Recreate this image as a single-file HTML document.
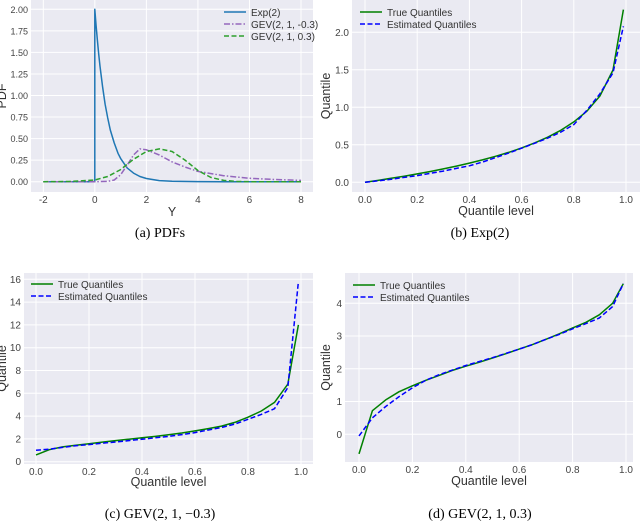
<!DOCTYPE html>
<html><head><meta charset="utf-8">
<style>
body{margin:0;background:#fff;}
svg text{font-family:"Liberation Sans",sans-serif;}
.cap{font-family:"Liberation Serif",serif;font-size:14px;fill:#000;}
</style></head>
<body>
<svg id="fig" width="640" height="527" xmlns="http://www.w3.org/2000/svg"></svg>
<script>
// Panel (a) PDFs
const expX=[-2,0,0,0.05,0.1,0.15,0.2,0.3,0.4,0.5,0.6,0.75,0.9,1,1.25,1.5,1.75,2,2.5,3,4,5,8];
const expY=[0,0,2,1.81,1.64,1.48,1.34,1.10,0.90,0.74,0.60,0.45,0.33,0.27,0.16,0.10,0.06,0.037,0.013,0.005,0.0007,0,0];
const gevNegX=[-2,0,0.5,0.75,1,1.25,1.5,1.75,2,2.5,3,3.5,4,5,6,7,8];
const gevNegY=[0,0,0.003,0.02,0.08,0.19,0.31,0.38,0.37,0.31,0.23,0.17,0.12,0.07,0.04,0.025,0.015];
const gevPosX=[-2,-1,0,0.5,1,1.5,2,2.5,3,3.5,4,4.5,5,5.5,6,7,8];
const gevPosY=[0,0.002,0.02,0.06,0.14,0.26,0.35,0.38,0.35,0.25,0.13,0.05,0.015,0.003,0,0,0];
// Quantile panels
const levels=[0,0.05,0.1,0.15,0.2,0.25,0.3,0.35,0.4,0.45,0.5,0.55,0.6,0.65,0.7,0.75,0.8,0.85,0.9,0.95,0.99];
const expTrue=[0.0005,0.0256,0.0527,0.0813,0.1116,0.1438,0.1783,0.2154,0.2554,0.2989,0.3466,0.3992,0.4581,0.5249,0.6020,0.6931,0.8047,0.9486,1.1513,1.4979,2.3026];
const expEst=[0,0.02,0.04,0.065,0.09,0.12,0.15,0.185,0.22,0.27,0.33,0.39,0.455,0.52,0.59,0.67,0.77,0.96,1.18,1.46,2.08];
const gevNegTrue=[0.6,1.05,1.3,1.45,1.58,1.72,1.85,1.97,2.1,2.22,2.36,2.52,2.7,2.9,3.12,3.45,3.9,4.45,5.2,6.8,12.0];
const gevNegEst=[1.0,1.1,1.25,1.4,1.5,1.62,1.73,1.85,1.97,2.1,2.22,2.38,2.55,2.78,3.0,3.3,3.72,4.15,4.65,6.5,15.8];
const gevPosTrue=[-0.6,0.72,1.05,1.3,1.48,1.65,1.8,1.95,2.08,2.2,2.33,2.46,2.6,2.74,2.9,3.07,3.25,3.42,3.65,4.0,4.6];
const gevPosEst=[-0.05,0.5,0.85,1.15,1.42,1.65,1.82,1.96,2.1,2.22,2.34,2.47,2.6,2.74,2.9,3.05,3.22,3.38,3.55,3.9,4.6];
const ticksA_x=[-2,0,2,4,6,8], ticksA_y=[0,0.25,0.5,0.75,1,1.25,1.5,1.75,2];
const ticksQ_x=[0,0.2,0.4,0.6,0.8,1];
const ticksB_y=[0,0.5,1,1.5,2], ticksC_y=[0,2,4,6,8,10,12,14,16], ticksD_y=[0,1,2,3,4];

const NS="http://www.w3.org/2000/svg";
const svg=document.getElementById('fig');
function mk(tag,attrs,parent){const e=document.createElementNS(NS,tag);for(const k in attrs)e.setAttribute(k,attrs[k]);(parent||svg).appendChild(e);return e;}
function scale(d0,d1,p0,p1){return v=>p0+(v-d0)*(p1-p0)/(d1-d0);}

function panel(o){
  const g=mk('g',{});
  
  
  const bg=mk('rect',{x:o.l,y:o.t,width:o.r-o.l,height:o.b-o.t,fill:'#eaeaf2'},g);
  
  
  const sx=scale(o.xd[0],o.xd[1],o.xp[0],o.xp[1]);
  const sy=scale(o.yd[0],o.yd[1],o.yp[0],o.yp[1]);
  o.xt.forEach(v=>{
    const gl=mk('line',{x1:sx(v),x2:sx(v),y1:o.t,y2:o.b,stroke:'#fff','stroke-width':1},g);
    
    
    const t=mk('text',{x:sx(v),y:o.b+11,'font-size':10,fill:'#444','text-anchor':'middle'},g);
    t.textContent=o.xfmt(v);
    
    
  });
  o.yt.forEach(v=>{
    const gl=mk('line',{x1:o.l,x2:o.r,y1:sy(v),y2:sy(v),stroke:'#fff','stroke-width':1},g);
    
    
    const t=mk('text',{x:o.l-3,y:sy(v)+3.5,'font-size':o.yfs||10,fill:'#444','text-anchor':'end'},g);
    t.textContent=o.yfmt(v);
    
    
  });
  o.series.forEach(s=>{
    const pts=s.x.map((xv,i)=>sx(xv).toFixed(1)+','+sy(s.y[i]).toFixed(1)).join(' ');
    const pl=mk('polyline',{points:pts,fill:'none',stroke:s.c,'stroke-width':1.5,'stroke-dasharray':s.d||'','stroke-linejoin':'round'},g);
    
    
  });
  const xl=mk('text',{x:(o.l+o.r)/2,y:o.b+o.xly,'font-size':12.5,fill:'#333','text-anchor':'middle'},g);
  xl.textContent=o.xlab;
  
  
  const yl=mk('text',{x:0,y:0,'font-size':12.5,fill:'#333','text-anchor':'middle',transform:`translate(${o.ylx},${(o.t+o.b)/2}) rotate(-90)`},g);
  yl.textContent=o.ylab;
  
  
  o.legend.forEach((e,i)=>{
    const y=o.lg[1]+i*12;
    const ln=mk('line',{x1:o.lg[0],x2:o.lg[0]+22,y1:y,y2:y,stroke:e.c,'stroke-width':1.5,'stroke-dasharray':e.d||''},g);
    
    
    const t=mk('text',{x:o.lg[0]+27,y:y+4,'font-size':10,fill:'#333'},g);
    t.textContent=e.n;
    
    
  });
  const c=mk('text',{x:o.cap[0],y:o.cap[1],'text-anchor':'middle',class:'cap'},g);
  c.textContent=o.capText;
  
  
}
const f2=v=>v.toFixed(2), f1=v=>v.toFixed(1), f0=v=>String(v);
const GREEN='#2ca02c', PURPLE='#9467bd', BLUE='#1f77b4';
panel({name:'panel-a-pdfs',l:31,r:313,t:0,b:192,xd:[-2,8],xp:[43.3,301],yd:[0,2],yp:[181.7,9.3],xt:ticksA_x,yt:ticksA_y,xfmt:f0,yfmt:f2,yfs:9,
  series:[{x:expX,y:expY,c:BLUE,n:'exp-pdf-line'},{x:gevNegX,y:gevNegY,c:PURPLE,d:'6 2 1.5 2',n:'gev-neg-pdf-line'},{x:gevPosX,y:gevPosY,c:GREEN,d:'5 2.5',n:'gev-pos-pdf-line'}],
  xlab:'Y',xly:24,ylab:'PDF',ylx:6,lg:[224,12],legend:[{n:'Exp(2)',c:BLUE},{n:'GEV(2, 1, -0.3)',c:PURPLE,d:'6 2 1.5 2'},{n:'GEV(2, 1, 0.3)',c:GREEN,d:'5 2.5'}],
  cap:[160,237],capText:'(a) PDFs'});
panel({name:'panel-b-exp',l:352,r:640,t:0,b:192,xd:[0,1],xp:[365,626],yd:[0,2],yp:[182.3,32.3],xt:ticksQ_x,yt:ticksB_y,xfmt:f1,yfmt:f1,
  series:[{x:levels,y:expTrue,c:'#008000',n:'true-quantiles-line'},{x:levels,y:expEst,c:'#0000ff',d:'5 2.5',n:'estimated-quantiles-line'}],
  xlab:'Quantile level',xly:23,ylab:'Quantile',ylx:330,lg:[360,12],legend:[{n:'True Quantiles',c:'#008000'},{n:'Estimated Quantiles',c:'#0000ff',d:'5 2.5'}],
  cap:[480,237],capText:'(b) Exp(2)'});
panel({name:'panel-c-gev-neg',l:24,r:313,t:273,b:464,xd:[0,1],xp:[36,301],yd:[0,16],yp:[461.7,279.3],xt:ticksQ_x,yt:ticksC_y,xfmt:f1,yfmt:f0,
  series:[{x:levels,y:gevNegTrue,c:'#008000',n:'true-quantiles-line'},{x:levels,y:gevNegEst,c:'#0000ff',d:'5 2.5',n:'estimated-quantiles-line'}],
  xlab:'Quantile level',xly:22,ylab:'Quantile',ylx:6,lg:[31,284],legend:[{n:'True Quantiles',c:'#008000'},{n:'Estimated Quantiles',c:'#0000ff',d:'5 2.5'}],
  cap:[160,518],capText:'(c) GEV(2, 1, −0.3)'});
panel({name:'panel-d-gev-pos',l:345,r:633,t:273,b:462,xd:[0,1],xp:[359,626],yd:[0,4],yp:[434.3,303.3],xt:ticksQ_x,yt:ticksD_y,xfmt:f1,yfmt:f0,
  series:[{x:levels,y:gevPosTrue,c:'#008000',n:'true-quantiles-line'},{x:levels,y:gevPosEst,c:'#0000ff',d:'5 2.5',n:'estimated-quantiles-line'}],
  xlab:'Quantile level',xly:23,ylab:'Quantile',ylx:330,lg:[353,285],legend:[{n:'True Quantiles',c:'#008000'},{n:'Estimated Quantiles',c:'#0000ff',d:'5 2.5'}],
  cap:[480,518],capText:'(d) GEV(2, 1, 0.3)'});
</script>
</body></html>
